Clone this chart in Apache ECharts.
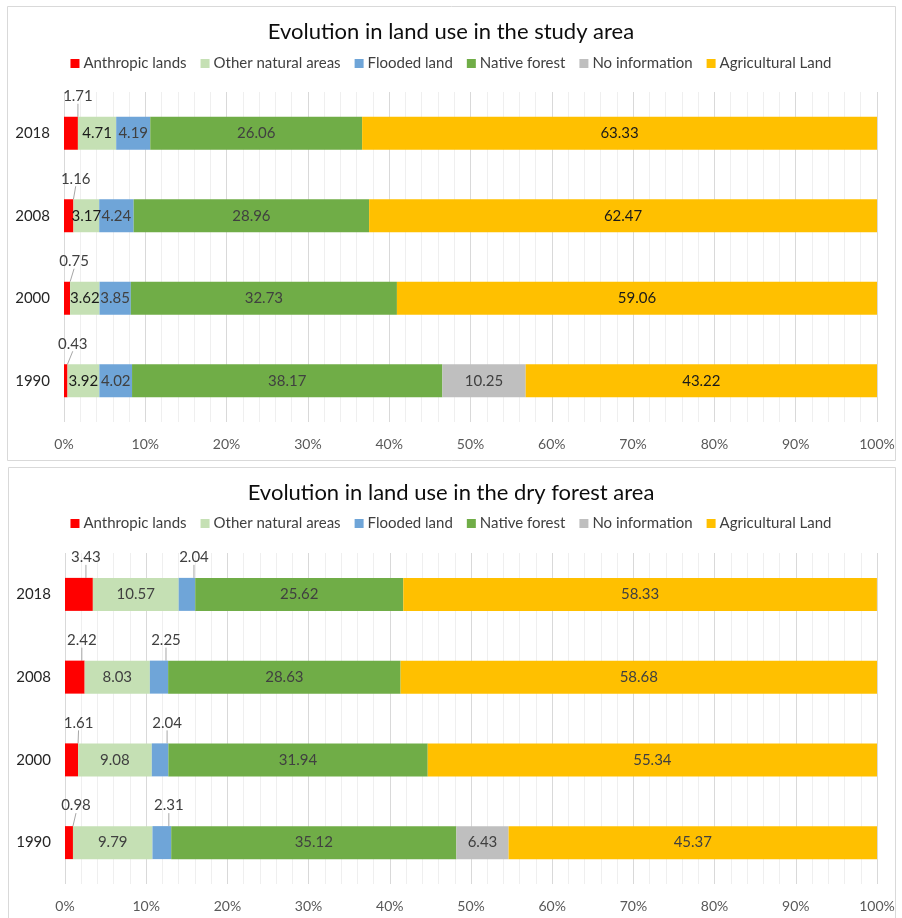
<!DOCTYPE html>
<html>
<head>
<meta charset="utf-8">
<script src="https://cdn.jsdelivr.net/npm/echarts@6/dist/echarts.min.js"></script>
<style>
html,body{margin:0;padding:0;background:#fff;}
#c{width:902px;height:918px;}
</style>
</head>
<body>
<div id="c"></div>
<script>
// ---- data ----
const years = ['2018', '2008', '2000', '1990'];
const seriesNames = ['Anthropic lands', 'Other natural areas', 'Flooded land', 'Native forest', 'No information', 'Agricultural Land'];
const xTicks = [0, 10, 20, 30, 40, 50, 60, 70, 80, 90, 100];

// Study area
const studyAnthropic = [1.71, 1.16, 0.75, 0.43];
const studyOtherNatural = [4.71, 3.17, 3.62, 3.92];
const studyFlooded = [4.19, 4.24, 3.85, 4.02];
const studyNativeForest = [26.06, 28.96, 32.73, 38.17];
const studyNoInfo = [null, null, null, 10.25];
const studyAgricultural = [63.33, 62.47, 59.06, 43.22];

// Dry forest area
const dryAnthropic = [3.43, 2.42, 1.61, 0.98];
const dryOtherNatural = [10.57, 8.03, 9.08, 9.79];
const dryFlooded = [2.04, 2.25, 2.04, 2.31];
const dryNativeForest = [25.62, 28.63, 31.94, 35.12];
const dryNoInfo = [null, null, null, 6.43];
const dryAgricultural = [58.33, 58.68, 55.34, 45.37];

// ---- styling ----
const FONT = 'Lato, "Open Sans", sans-serif';
const colors = ['#FF0000', '#C5E0B4', '#6FA5D8', '#70AD47', '#BFBFBF', '#FFC000'];

const studyData = [studyAnthropic, studyOtherNatural, studyFlooded, studyNativeForest, studyNoInfo, studyAgricultural];
const dryData = [dryAnthropic, dryOtherNatural, dryFlooded, dryNativeForest, dryNoInfo, dryAgricultural];

const studyLabelColors = ['#404040', '#1a1a1a', '#404040', '#404040', '#404040', '#1a1a1a'];
const dryLabelColors = ['#404040', '#404040', '#404040', '#404040', '#404040', '#404040'];
const studyOutside = [true, false, false, false, false, false];
const dryOutside = [true, false, true, false, false, false];

function makeSeries(dataSets, gridIdx, labelColors, outside) {
  return dataSets.map((d, i) => {
    const s = {
      name: seriesNames[i],
      type: 'bar',
      stack: 'g' + gridIdx,
      xAxisIndex: gridIdx,
      yAxisIndex: gridIdx,
      barWidth: 33,
      data: d,
      itemStyle: { color: colors[i] },
      label: {
        show: true,
        position: outside[i] ? 'top' : 'inside',
        color: labelColors[i],
        fontFamily: FONT,
        fontSize: 15,
        formatter: p => (p.value == null ? '' : p.value.toFixed(2))
      },
      emphasis: { disabled: true }
    };
    if (outside[i]) {
      s.labelLayout = { dx: 7, dy: -8 };
      s.labelLine = { show: true, lineStyle: { color: '#a6a6a6', width: 1 } };
    }
    return s;
  });
}

function xAxisCfg(gridIdx) {
  return {
    gridIndex: gridIdx,
    type: 'value',
    min: 0, max: 100, interval: 10,
    axisLine: { show: false },
    axisTick: { show: false },
    axisLabel: { formatter: '{value}%', color: '#595959', fontFamily: FONT, fontSize: 14, margin: 15 },
    splitLine: { show: true, lineStyle: { color: '#d9d9d9', width: 1 } },
    minorTick: { show: false, splitNumber: 5 },
    minorSplitLine: { show: true, lineStyle: { color: '#efefef', width: 1 } }
  };
}
function yAxisCfg(gridIdx) {
  return {
    gridIndex: gridIdx,
    type: 'category',
    data: years,
    inverse: true,
    axisLine: { show: false },
    axisTick: { show: false },
    axisLabel: { color: '#262626', fontFamily: FONT, fontSize: 15, margin: 14 }
  };
}

const legendCommon = {
  data: seriesNames,
  icon: 'rect',
  itemWidth: 9,
  itemHeight: 9,
  itemGap: 14,
  left: 'center',
  selectedMode: false,
  textStyle: { color: '#404040', fontFamily: FONT, fontSize: 15, padding: [0, 0, 0, -1] }
};

const option = {
  animation: false,
  backgroundColor: '#fff',
  graphic: [
    { type: 'rect', shape: { x: 7.5, y: 6.5, width: 888, height: 454 }, style: { fill: 'none', stroke: '#d9d9d9', lineWidth: 1 }, silent: true },
    { type: 'rect', shape: { x: 8.5, y: 467.5, width: 887, height: 460 }, style: { fill: 'none', stroke: '#d9d9d9', lineWidth: 1 }, silent: true }
  ],
  title: [
    { text: 'Evolution in land use in the study area', left: 'center', top: 16, textStyle: { fontFamily: FONT, fontSize: 22, fontWeight: 'normal', color: '#0d0d0d' } },
    { text: 'Evolution in land use in the dry forest area', left: 'center', top: 477, textStyle: { fontFamily: FONT, fontSize: 22, fontWeight: 'normal', color: '#0d0d0d' } }
  ],
  legend: [
    Object.assign({ top: 51 }, legendCommon),
    Object.assign({ top: 511 }, legendCommon)
  ],
  grid: [
    { left: 64, right: 25, top: 92, height: 330 },
    { left: 65, right: 25, top: 553, height: 331 }
  ],
  xAxis: [xAxisCfg(0), xAxisCfg(1)],
  yAxis: [yAxisCfg(0), yAxisCfg(1)],
  series: makeSeries(studyData, 0, studyLabelColors, studyOutside)
    .concat(makeSeries(dryData, 1, dryLabelColors, dryOutside))
};

const chart = echarts.init(document.getElementById('c'), null, { renderer: 'canvas' });
chart.setOption(option);
</script>
</body>
</html>
